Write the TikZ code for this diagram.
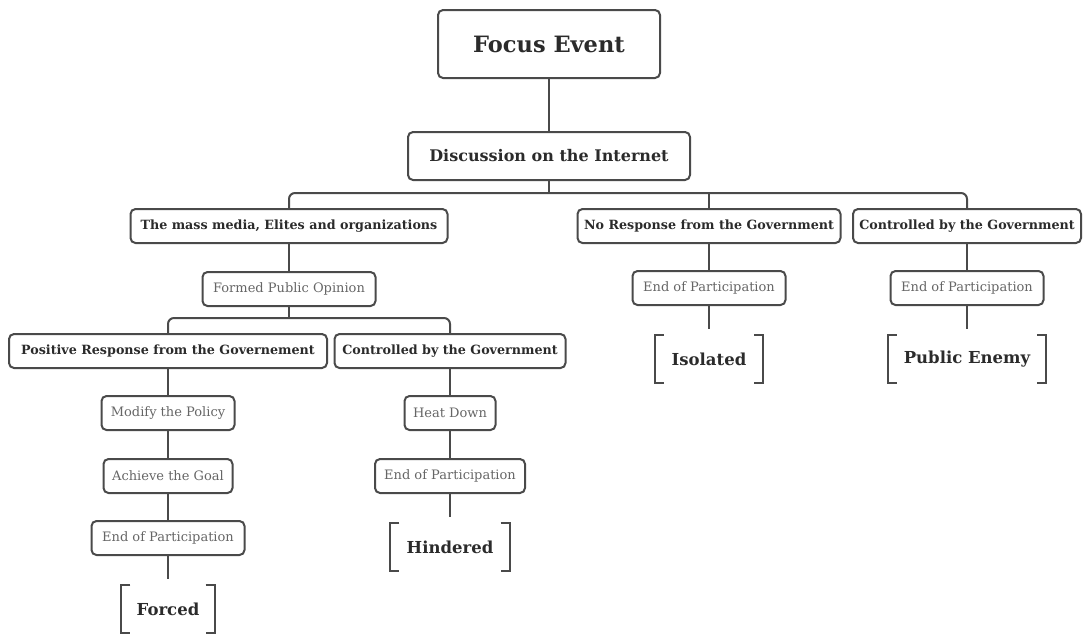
\documentclass[tikz,border=0pt]{standalone}
\usepackage{fontspec}
\setmainfont{DejaVu Serif}
\usepackage{tikz}
\definecolor{linec}{HTML}{4A4A4A}
\definecolor{darktext}{HTML}{2B2B2B}
\definecolor{greytext}{HTML}{666666}
\tikzset{box/.style = {draw=linec, line width=2pt, rounded corners=5pt, fill=white,
                       inner xsep=4pt, inner ysep=2pt, minimum height=34pt},
         head/.style = {box, font=\fontsize{12.7}{15}\selectfont\bfseries, text=darktext},
         stage/.style = {box, font=\fontsize{13}{15}\selectfont, text=greytext},
         result/.style = {font=\fontsize{16.5}{19}\selectfont\bfseries, text=darktext,
                          minimum height=48pt, inner xsep=4pt},
         link/.style = {draw=linec, line width=2pt}}
\newcommand{\brackets}[1]{%
  \draw [link] ([xshift=9pt]#1.north west) -| (#1.south west) -- ([xshift=9pt]#1.south west);
  \draw [link] ([xshift=-9pt]#1.north east) -| (#1.south east) -- ([xshift=-9pt]#1.south east);}

\begin{document}
\begin{tikzpicture}[x=1pt, y=-1pt]
      \useasboundingbox (0, 0) rectangle (1083, 633);

      \node [box, font=\fontsize{22.5}{26}\selectfont\bfseries, text=darktext,
             minimum width=222pt, minimum height=68pt] (focus) at (549, 44) {Focus Event};
      \node [box, font=\fontsize{16}{19}\selectfont\bfseries, text=darktext,
             minimum width=282pt, minimum height=48pt] (disc) at (549, 156) {Discussion on the Internet};

      \node [head, minimum width=317pt] (media) at (289, 226) {The mass media, Elites and organizations};
      \node [head, minimum width=263pt] (noresp) at (709, 226) {No Response from the Government};
      \node [head, minimum width=228pt] (ctrlR) at (967, 226) {Controlled by the Government};

      \node [stage, minimum width=173pt] (formed) at (289, 289) {Formed Public Opinion};
      \node [stage, minimum width=153pt] (endNR) at (709, 288) {End of Participation};
      \node [stage, minimum width=153pt] (endCR) at (967, 288) {End of Participation};

      \node [result, minimum width=108pt] (isolated) at (709, 359) {Isolated};
      \node [result, minimum width=158pt] (enemy) at (967, 359) {Public Enemy};

      \node [head, minimum width=318pt] (positive) at (168, 351) {Positive Response from the Governement};
      \node [head, minimum width=231pt] (ctrlL) at (450, 351) {Controlled by the Government};

      \node [stage, minimum width=133pt] (modify) at (168, 413) {Modify the Policy};
      \node [stage, minimum width=129pt] (achieve) at (168, 476) {Achieve the Goal};
      \node [stage, minimum width=153pt] (endL) at (168, 538) {End of Participation};
      \node [result, minimum width=93pt] (forced) at (168, 609) {Forced};

      \node [stage, minimum width=91pt] (heat) at (450, 413) {Heat Down};
      \node [stage, minimum width=150pt] (endM) at (450, 476) {End of Participation};
      \node [result, minimum width=119pt] (hindered) at (450, 547) {Hindered};

      \coordinate (bus0) at (549, 193);
      \coordinate (bus1) at (289, 318);

      \draw [link] (focus) -- (disc);
      \draw [link] (disc) -- (bus0);
      \draw [link, rounded corners=6pt] (media.north) |- (bus0) -| (ctrlR.north);
      \draw [link] (noresp.north) -- (noresp.north |- bus0);

      \draw [link] (media) -- (formed);
      \draw [link] (formed) -- (bus1);
      \draw [link, rounded corners=6pt] (positive.north) |- (bus1) -| (ctrlL.north);

      \draw [link] (noresp) -- (endNR);
      \draw [link] (endNR.south) -- ([yshift=6pt]isolated.north);
      \draw [link] (ctrlR) -- (endCR);
      \draw [link] (endCR.south) -- ([yshift=6pt]enemy.north);

      \draw [link] (positive) -- (modify);
      \draw [link] (modify) -- (achieve);
      \draw [link] (achieve) -- (endL);
      \draw [link] (endL.south) -- ([yshift=6pt]forced.north);

      \draw [link] (ctrlL) -- (heat);
      \draw [link] (heat) -- (endM);
      \draw [link] (endM.south) -- ([yshift=6pt]hindered.north);

      \brackets{isolated}
      \brackets{enemy}
      \brackets{forced}
      \brackets{hindered}
\end{tikzpicture}
\end{document}
